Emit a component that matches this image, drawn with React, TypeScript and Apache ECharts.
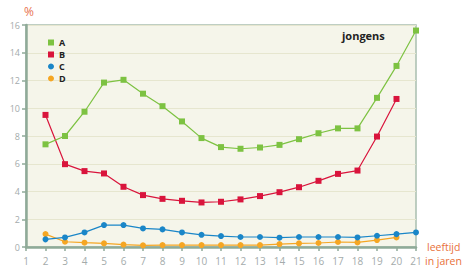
import React, { useEffect, useRef } from "react";
import * as echarts from "echarts";

const ages = [2, 3, 4, 5, 6, 7, 8, 9, 10, 11, 12, 13, 14, 15, 16, 17, 18, 19, 20, 21];
const seriesA = [7.4, 8.0, 9.75, 11.85, 12.05, 11.05, 10.15, 9.05, 7.85, 7.2, 7.08, 7.17, 7.36, 7.77, 8.2, 8.55, 8.55, 10.75, 13.05, 15.6];
const seriesB = [9.52, 5.97, 5.47, 5.3, 4.34, 3.74, 3.47, 3.33, 3.21, 3.26, 3.43, 3.67, 3.95, 4.31, 4.77, 5.27, 5.51, 7.96, 10.67];
const seriesC = [0.55, 0.69, 1.05, 1.58, 1.58, 1.34, 1.27, 1.05, 0.88, 0.79, 0.72, 0.72, 0.67, 0.72, 0.72, 0.72, 0.69, 0.81, 0.93, 1.05];
const seriesD = [0.93, 0.38, 0.31, 0.26, 0.17, 0.12, 0.14, 0.14, 0.14, 0.14, 0.14, 0.14, 0.21, 0.26, 0.29, 0.36, 0.33, 0.5, 0.69];
const names = ["A", "B", "C", "D"];
const colors = ["#7dc242", "#d9143c", "#1a86c8", "#f5a623"];
const symbols = ["rect", "rect", "circle", "circle"];

const pair = (vals: number[]) => vals.map((v, i) => [ages[i], v]);

export default function App() {
  const ref = useRef<HTMLDivElement>(null);
  useEffect(() => {
    const chart = echarts.init(ref.current!, null, { renderer: "svg" });
    const all = [seriesA, seriesB, seriesC, seriesD];
    chart.setOption({
      animation: false,
      grid: {
        left: 26,
        right: 48,
        top: 25,
        bottom: 23,
        show: true,
        backgroundColor: "#f5f5ea",
        borderColor: "#a9bfb0",
        borderWidth: 1.5,
      },
      legend: {
        orient: "vertical",
        left: 43,
        top: 33,
        itemWidth: 6,
        itemHeight: 6,
        itemGap: 3,
        textStyle: { fontSize: 9, fontWeight: "bold", color: "#222", fontFamily: "Open Sans" },
        data: names.map((n, i) => ({ name: n, icon: symbols[i] })),
      },
      xAxis: {
        type: "value",
        min: 1,
        max: 21,
        interval: 1,
        splitLine: { show: false },
        axisLine: { lineStyle: { color: "#8faa98", width: 2.5 } },
        axisTick: { show: true, length: 4, lineStyle: { color: "#8faa98", width: 1.5 } },
        axisLabel: { color: "#a4abab", fontSize: 10, margin: 9, fontFamily: "Open Sans" },
      },
      yAxis: {
        type: "value",
        min: 0,
        max: 16,
        interval: 2,
        splitLine: { show: true, lineStyle: { color: "#e6e6cf", width: 1 } },
        axisLine: { show: true, lineStyle: { color: "#8faa98", width: 2.5 } },
        axisTick: { show: true, length: 4, lineStyle: { color: "#8faa98", width: 1.5 } },
        axisLabel: { color: "#a4abab", fontSize: 9, margin: 6, fontFamily: "Open Sans" },
      },
      series: all.map((vals, i) => ({
        name: names[i],
        type: "line",
        data: pair(vals),
        symbol: symbols[i],
        symbolSize: 6,
        showAllSymbol: true,
        itemStyle: { color: colors[i] },
        lineStyle: { color: colors[i], width: 1.2 },
        z: 10 - i,
      })),
      graphic: [
        { type: "text", left: 24, top: 5, style: { text: "%", fill: "#e8734f", fontSize: 12, fontFamily: "Open Sans" } },
        { type: "text", left: 342, top: 30, style: { text: "jongens", fill: "#222", fontSize: 11, fontWeight: "bold", fontFamily: "Open Sans" } },
        { type: "text", left: 427, top: 241, style: { text: "leeftijd", fill: "#e8703a", fontSize: 10.5, fontFamily: "Open Sans" } },
        { type: "text", left: 425, top: 255, style: { text: "in jaren", fill: "#e8703a", fontSize: 10.5, fontFamily: "Open Sans" } },
      ],
    });
    return () => chart.dispose();
  }, []);
  return <div ref={ref} style={{ width: 464, height: 270, position: "absolute", left: 0, top: 0 }} />;
}
